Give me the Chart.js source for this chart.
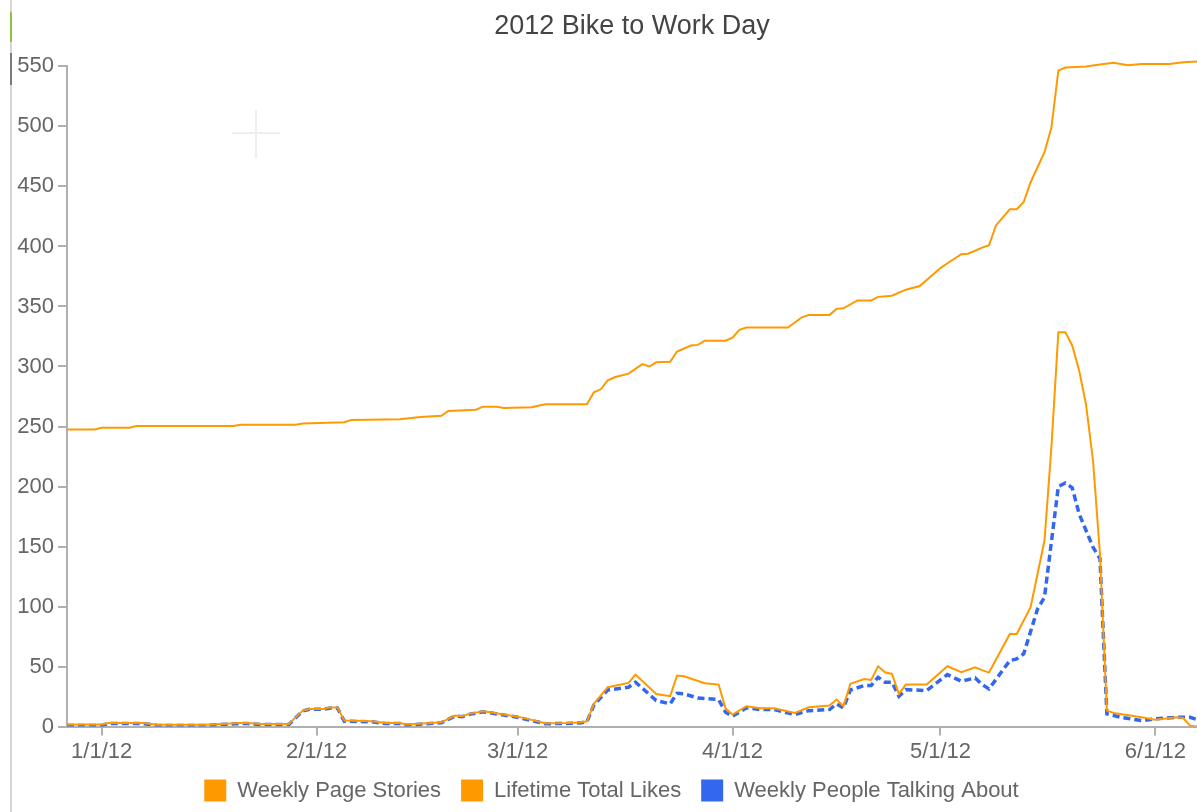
<!DOCTYPE html>
<html>
<head>
<meta charset="utf-8">
<title>2012 Bike to Work Day</title>
<script src="https://cdn.jsdelivr.net/npm/chart.js@4.4.0/dist/chart.umd.min.js"></script>
<style>
  html, body { margin: 0; padding: 0; background: #fff; }
  #wrap { position: relative; width: 1197px; height: 812px; overflow: hidden; }
  #wrap canvas { position: absolute; left: 0; top: 0; }
  .edge { position: absolute; left: 10px; width: 2px; }
  .cross { position: absolute; background: #eeeeee; }
</style>
</head>
<body>
<div id="wrap">
  <canvas id="chartLine" width="1197" height="812"></canvas>
  <div class="edge" style="top:0;height:812px;background:#d6d6d6"></div>
  <div class="edge" style="top:12px;height:30px;background:#8cc43c"></div>
  <div class="edge" style="top:53px;height:32px;background:#7a7a7a"></div>
  <div class="cross" style="left:232px;top:132px;width:48px;height:2px"></div>
  <div class="cross" style="left:255px;top:110px;width:2px;height:48px"></div>
</div>
<script>
// x values are days counted from 1 Jan 2012 (negative = late Dec 2011)
const tickDays = [0, 31, 60, 91, 121, 152];
const tickLabels = ["1/1/12", "2/1/12", "3/1/12", "4/1/12", "5/1/12", "6/1/12"];

const storiesDays = [-5, 0, 1, 6, 8, 15, 20, 21, 23, 27,
    29, 30, 32, 33, 34, 35, 39, 41, 43, 44,
    47, 49, 51, 52, 53, 55, 56, 58, 60, 62,
    64, 67, 69, 70, 71, 73, 76, 77, 80, 82,
    83, 84, 87, 89, 90, 91, 93, 95, 97, 100,
    102, 105, 106, 107, 108, 110, 111, 112, 113, 114,
    115, 116, 119, 122, 124, 126, 127, 128, 131, 132,
    134, 136, 137, 138, 139, 140, 141, 142, 143, 144,
    145, 146, 150, 152, 155, 156, 157, 158];
const storiesValues = [1.7, 1.7, 3, 3, 1.5, 1.5, 3, 3, 2.2, 2.2,
    13.3, 14.7, 14.7, 16, 16, 5, 4.4, 3, 3, 1.7,
    2.8, 3.6, 9.2, 8.6, 10.6, 12.8, 12, 10, 8.3, 5.6,
    2.8, 3, 3.5, 4.4, 19, 32.8, 36.4, 43.3, 27.2, 25.3,
    42.5, 42, 36.1, 35, 15, 10, 17, 15.3, 15.3, 11.4,
    16.1, 17.5, 22.5, 17, 35.6, 39.7, 38.9, 50.3, 45.3, 43.9,
    27.2, 35, 35, 50.3, 45.3, 49.4, 47, 45, 77.2, 77.2,
    99.4, 155, 232.8, 328.6, 328.6, 317.5, 296.7, 268, 221.7, 143.9,
    13.3, 11.4, 7.8, 5.8, 7.8, 7.2, 0.8, 0];

const likesDays = [-5, -1, 0, 4, 5, 19, 20, 28, 29, 35,
    36, 43, 46, 49, 50, 54, 55, 57, 58, 62,
    64, 70, 71, 72, 73, 74, 76, 78, 79, 80,
    82, 83, 84, 85, 86, 87, 90, 91, 92, 93,
    99, 101, 102, 105, 106, 107, 109, 111, 112, 114,
    116, 118, 121, 122, 124, 125, 127, 128, 129, 131,
    132, 133, 134, 136, 137, 138, 139, 142, 144, 146,
    147, 148, 150, 154, 156, 158];
const likesValues = [247.5, 247.5, 249, 249, 250.5, 250.5, 251.5, 251.5, 252.5, 253.5,
    255.5, 256, 258, 259, 263, 264, 266.5, 266.5, 265.5, 266,
    268.5, 268.5, 278.5, 281, 288.5, 291, 294, 302, 300, 303.5,
    304, 312.5, 315, 317.5, 318, 321.5, 321.5, 324, 330.5, 332.5,
    332.5, 341, 343, 343, 348, 348.5, 355, 355, 358, 359,
    364, 367, 382, 386, 393.5, 394, 399, 401, 417.5, 431,
    431, 437, 453.5, 478.5, 499, 546.5, 549, 550, 551.5, 553,
    552, 551, 552, 552, 553.5, 554];

const talkingDays = [-5, 0, 1, 6, 8, 15, 20, 21, 23, 27,
    29, 30, 32, 33, 34, 35, 39, 41, 43, 44,
    47, 49, 51, 52, 53, 55, 56, 58, 60, 62,
    64, 67, 69, 70, 71, 73, 76, 77, 80, 82,
    83, 84, 86, 89, 90, 91, 93, 95, 97, 100,
    102, 105, 106, 107, 108, 110, 111, 112, 113, 114,
    115, 116, 119, 122, 124, 126, 127, 128, 131, 132,
    133, 135, 136, 138, 139, 140, 141, 143, 144, 145,
    147, 150, 152, 155, 157, 158];
const talkingValues = [1, 1, 2.5, 2.5, 1, 1, 2.5, 2.5, 1.8, 1.8,
    13, 14.5, 14.5, 15.5, 15.5, 4.5, 4, 2.5, 2.5, 1.2,
    2.4, 3.2, 8.8, 8.2, 10.2, 12.4, 11.6, 9.6, 7.8, 5,
    2.4, 2.6, 3, 4, 18, 30.5, 32.8, 37, 21.7, 18.9,
    27.8, 27.2, 23.9, 22.5, 11.9, 8.6, 15.6, 14.2, 14.2, 10,
    13.3, 14.2, 18.9, 15.6, 30.5, 34.2, 34.2, 41.1, 37, 37,
    25.3, 30.8, 30, 43.3, 37.8, 40.5, 35, 31.4, 55, 56.4,
    60.6, 98, 107.8, 200, 203, 199, 177.2, 149.4, 140, 10.6,
    7.8, 5, 6.4, 7.8, 7.8, 5.8];

const ORANGE = "#ff9900";
const BLUE = "#3368ee";
const FONT = "'Liberation Sans', Arial, Helvetica, sans-serif";

function points(days, values) {
    return days.map((d, i) => ({ x: d, y: values[i] }));
}

const data = {
    datasets: [{
        label: "Weekly Page Stories",
        data: points(storiesDays, storiesValues),
        borderColor: ORANGE,
        backgroundColor: ORANGE,
        borderWidth: 2,
    }, {
        label: "Lifetime Total Likes",
        data: points(likesDays, likesValues),
        borderColor: ORANGE,
        backgroundColor: ORANGE,
        borderWidth: 2,
        clip: 10,
    }, {
        label: "Weekly People Talking About",
        data: points(talkingDays, talkingValues),
        borderColor: BLUE,
        backgroundColor: BLUE,
        borderWidth: 3.5,
        borderDash: [7, 4],
    }],
};

const axisGrey = "#b0b0b0";

// the legend in the original sits a little right of the canvas centre
const legendShift = {
    id: "legendShift",
    afterLayout(chart) {
        chart.legend.left += 13;
        chart.legend.right += 13;
    },
};

const configLineChart = {
    type: "line",
    data,
    plugins: [legendShift],
    options: {
        responsive: false,
        animation: false,
        elements: {
            point: { radius: 0, hoverRadius: 0 },
            line: { tension: 0 },
        },
        layout: { padding: { left: 0, right: 0, top: 0, bottom: 0.5 } },
        plugins: {
            title: {
                display: true,
                text: "2012 Bike to Work Day",
                fullSize: false,
                color: "#444",
                font: { family: FONT, size: 27, weight: "normal" },
                padding: { top: 10, bottom: 24 },
            },
            legend: {
                position: "bottom",
                labels: {
                    boxWidth: 22,
                    boxHeight: 22,
                    padding: 20,
                    color: "#666",
                    font: { family: FONT, size: 22 },
                    generateLabels: (chart) =>
                        Chart.defaults.plugins.legend.labels.generateLabels(chart)
                            .map((item) => ({ ...item, lineDash: [], lineWidth: 0 })),
                },
            },
            tooltip: { enabled: false },
        },
        scales: {
            x: {
                type: "linear",
                min: -5,
                max: 158,
                afterBuildTicks: (scale) => {
                    scale.ticks = tickDays.map((v) => ({ value: v }));
                },
                afterFit: (scale) => {
                    scale.height -= 8.5;
                },
                ticks: {
                    autoSkip: false,
                    maxRotation: 0,
                    padding: 3,
                    color: "#666",
                    font: { family: FONT, size: 22 },
                    callback: (v) => tickLabels[tickDays.indexOf(v)],
                },
                grid: {
                    drawOnChartArea: false,
                    drawTicks: true,
                    tickLength: 9,
                    color: axisGrey,
                    lineWidth: 2,
                },
                border: { color: axisGrey, width: 2 },
            },
            y: {
                min: 0,
                max: 550,
                afterFit: (scale) => {
                    scale.width = 67;
                },
                ticks: {
                    stepSize: 50,
                    padding: 4,
                    color: "#666",
                    font: { family: FONT, size: 22 },
                },
                grid: {
                    drawOnChartArea: false,
                    drawTicks: true,
                    tickLength: 9,
                    color: axisGrey,
                    lineWidth: 2,
                },
                border: { color: axisGrey, width: 2 },
            },
        },
    },
};

var chartLine = new Chart(
    document.getElementById("chartLine"),
    configLineChart
);
</script>
</body>
</html>
